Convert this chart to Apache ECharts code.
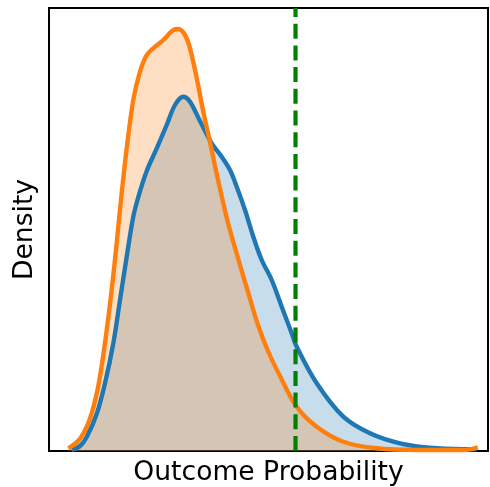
<!DOCTYPE html>
<html>
<head>
<meta charset="utf-8">
<script src="https://cdn.jsdelivr.net/npm/echarts@6/dist/echarts.min.js"></script>
<style>html,body{margin:0;padding:0;background:#fff}#c{width:490px;height:487px}</style>
</head>
<body>
<div id="c"></div>
<script>
// Blue KDE (x, density)
const blueX = [0.0569,0.0777,0.0945,0.1195,0.1403,0.1611,0.1779,0.1947,0.2112,0.2238,0.2448,0.2699,0.2949,0.3157,0.3365,0.3533,0.3783,0.4077,0.4327,0.4535,0.4703,0.4911,0.5119,0.5330,0.5580,0.5831,0.6081,0.6206,0.6708,0.7374,0.8043,0.8795,0.9714,1.0717];
const blueY = [0.01,0.05,0.14,0.37,0.677,1.077,1.51,1.943,2.343,2.54,2.80,3.027,3.26,3.46,3.543,3.493,3.30,3.077,2.943,2.81,2.643,2.41,2.143,1.91,1.71,1.443,1.177,1.043,0.677,0.343,0.177,0.077,0.027,0.017];
// Orange KDE (x, density)
const orangeX = [0.0484,0.0677,0.0814,0.1015,0.1215,0.1378,0.1541,0.1679,0.1804,0.1942,0.2112,0.2280,0.2448,0.2613,0.2864,0.3114,0.3240,0.3408,0.3533,0.3701,0.3866,0.4034,0.4159,0.4327,0.4493,0.4743,0.4994,0.5237,0.5487,0.5788,0.6206,0.6708,0.7374,0.8211,0.9213,1.0381,1.0742];
const orangeY = [0.027,0.08,0.143,0.31,0.61,1.01,1.51,2.01,2.51,3.01,3.51,3.793,3.96,4.027,4.11,4.21,4.22,4.16,4.027,3.73,3.393,3.09,2.85,2.55,2.27,1.92,1.58,1.26,1.0,0.75,0.443,0.243,0.093,0.027,0.01,0.01,0.037];
// Threshold (dashed vertical line)
const thresholdX = 0.6177;
const xRange = [0, 1.1];
const yRange = [0, 4.43];

const zip = (xs, ys) => xs.map((x, i) => [x, ys[i]]);
const chart = echarts.init(document.getElementById('c'), null, {renderer: 'canvas'});
const hiddenAxis = {
  axisLine: {show: false}, axisTick: {show: false}, axisLabel: {show: false}, splitLine: {show: false}
};
const SM = 0.35;
const LW = 4.4;
chart.setOption({
  animation: false,
  backgroundColor: '#fff',
  grid: {left: 49, top: 8, width: 439, height: 443, containLabel: false, outerBoundsMode: 'none',
    show: true, borderColor: '#000', borderWidth: 2, backgroundColor: 'transparent'},
  xAxis: Object.assign({type: 'value', min: xRange[0], max: xRange[1],
    name: 'Outcome Probability', nameLocation: 'middle', nameGap: 9,
    nameTextStyle: {fontFamily: 'DejaVu Sans', fontSize: 26.6, color: '#000', verticalAlign: 'top'}}, hiddenAxis),
  yAxis: Object.assign({type: 'value', min: yRange[0], max: yRange[1],
    name: 'Density', nameLocation: 'middle', nameGap: 10,
    nameTextStyle: {fontFamily: 'DejaVu Sans', fontSize: 26.6, color: '#000'}}, hiddenAxis),
  series: [
    {type: 'line', data: zip(blueX, blueY), smooth: SM, showSymbol: false, z: 2,
      lineStyle: {width: 0, opacity: 0}, areaStyle: {color: '#1f77b4', opacity: 0.25}},
    {type: 'line', data: zip(orangeX, orangeY), smooth: SM, showSymbol: false, z: 3,
      lineStyle: {width: 0, opacity: 0}, areaStyle: {color: '#ff7f0e', opacity: 0.25}},
    {type: 'line', data: zip(blueX, blueY), smooth: SM, showSymbol: false, z: 4,
      lineStyle: {color: '#1f77b4', width: LW}},
    {type: 'line', data: zip(orangeX, orangeY), smooth: SM, showSymbol: false, z: 5,
      lineStyle: {color: '#ff7f0e', width: LW}},
    {type: 'line', data: [[thresholdX, yRange[0]], [thresholdX, yRange[1]]], showSymbol: false, z: 6,
      lineStyle: {color: '#008000', width: 4.2, type: [15, 6.7]}}
  ]
});
</script>
</body>
</html>
